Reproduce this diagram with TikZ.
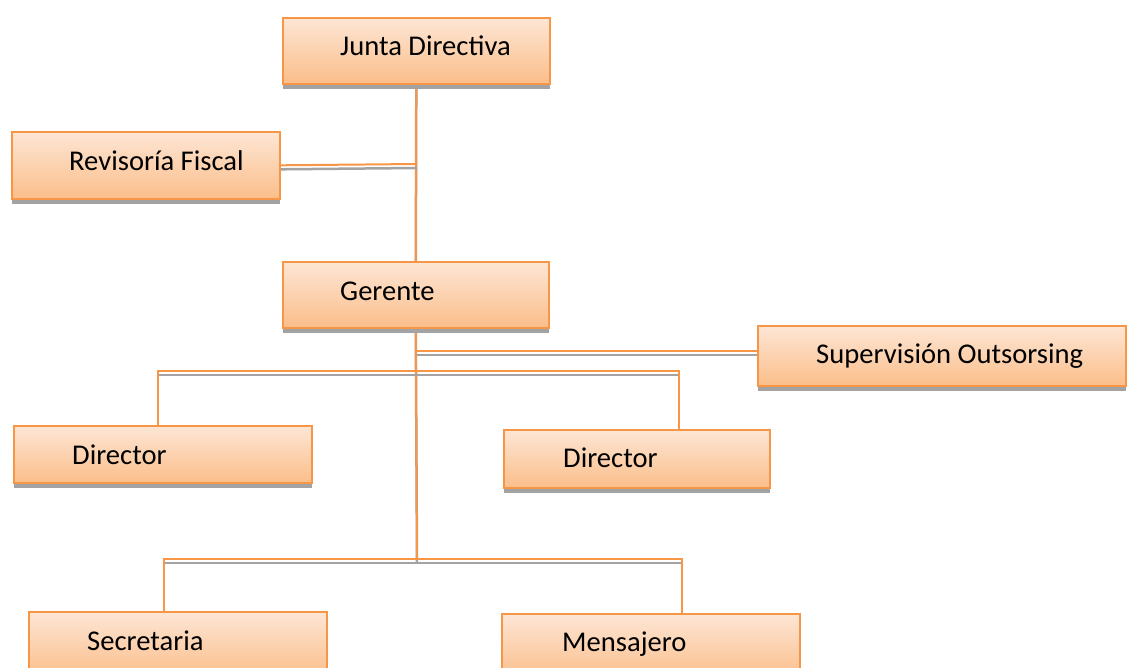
\documentclass[tikz,border=0pt]{standalone}
\usepackage{fontspec}
\setmainfont{Carlito}
\usetikzlibrary{shadows,backgrounds}
\definecolor{boxline}{HTML}{F79646}
\definecolor{boxtop}{HTML}{FDE6D5}
\definecolor{boxbottom}{HTML}{FBBE8A}
\definecolor{shadowgray}{HTML}{A3A3A3}
\begin{document}
\begin{tikzpicture}[x=1pt, y=-1pt,
    box/.style={draw=boxline, line width=1.6pt, top color=boxtop, bottom color=boxbottom,
        anchor=north west, inner sep=0pt, general shadow={fill=shadowgray, shadow yshift=-5pt}},
    txt/.style={font=\fontsize{28.6}{34}\selectfont, anchor=base west, inner sep=0pt},
    link/.style={draw=boxline, line width=2pt,
        preaction={draw=shadowgray, line width=2.5pt, transform canvas={yshift=-4pt}}}]

    \useasboundingbox (0,0) rectangle (1127,667);

    \node[box, minimum width=267, minimum height=66] (jd) at (282, 17) {};
    \node[box, minimum width=268, minimum height=67] (rf) at (11, 131) {};
    \node[box, minimum width=266, minimum height=66] (gr) at (282, 261) {};
    \node[box, minimum width=368, minimum height=60] (so) at (757, 325) {};
    \node[box, minimum width=298, minimum height=57] (dl) at (13, 425) {};
    \node[box, minimum width=266, minimum height=58] (dr) at (503, 429) {};
    \node[box, minimum width=298, minimum height=66] (sc) at (28, 611) {};
    \node[box, minimum width=298, minimum height=66] (mj) at (501, 613) {};

    \node[txt] (jdt) at (340, 55) {Junta Directiva};
    \node[txt] (rft) at (69, 170) {Revisoría Fiscal};
    \node[txt] (grt) at (340, 300) {Gerente};
    \node[txt] (sot) at (816, 363) {Supervisión Outsorsing};
    \node[txt] (dlt) at (72, 464) {Director};
    \node[txt] (drt) at (563, 467) {Director};
    \node[txt] (sct) at (87, 650) {Secretaria};
    \node[txt] (mjt) at (562, 651) {Mensajero};

    \coordinate (rfj) at (417, 164);
    \coordinate (soj) at (417, 351);
    \coordinate (dbl) at (158, 371);
    \coordinate (dbr) at (679, 371);
    \coordinate (bbm) at (417, 559);
    \coordinate (bbl) at (164, 559);
    \coordinate (bbr) at (682, 559);

    % connectors behind the boxes
    \begin{scope}[on background layer]
    \draw[link] (jd.south) -- (gr.north);
    \draw[link] (rf.east) -- (rfj);
    \draw[link] (gr.south) -- (bbm);
    \draw[link] (soj) -- (soj -| so.west);
    \draw[link] (dbl |- dl.north) -- (dbl) -- (dbr) -- (dbr |- dr.north);
    \draw[link] (bbl |- sc.north) -- (bbl) -- (bbr) -- (bbr |- mj.north);
    \end{scope}
\end{tikzpicture}
\end{document}
